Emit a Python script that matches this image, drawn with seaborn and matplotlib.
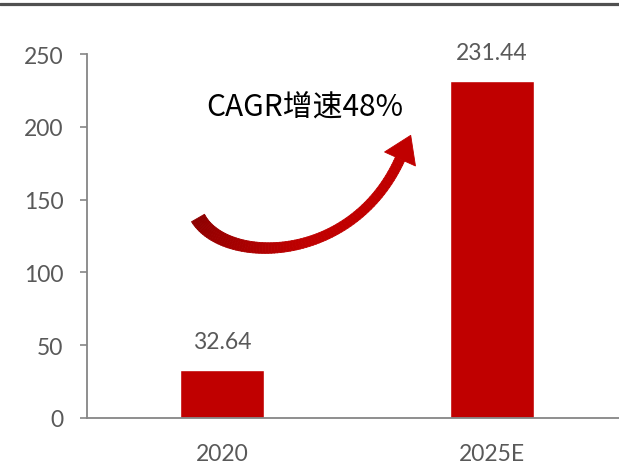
import numpy as np
import matplotlib
matplotlib.use("Agg")
import matplotlib.pyplot as plt
from matplotlib.collections import PolyCollection
from matplotlib.patches import Polygon
from matplotlib.lines import Line2D
from matplotlib.colors import to_rgb
import seaborn as sns

# Market size data
categories = ["2020", "2025E"]
values = [32.64, 231.44]
value_labels = ["32.64", "231.44"]
cagr_text = "CAGR增速48%"
y_ticks = [0, 50, 100, 150, 200, 250]

W, H = 619, 464
DPI = 100
BAR_RED = "#C00000"
TEXT_GRAY = "#595959"
AXIS_GRAY = "#868686"

sns.set_theme(style="white")
plt.rcParams["font.family"] = ["Lato", "DejaVu Sans"]

fig = plt.figure(figsize=(W / DPI, H / DPI), dpi=DPI)
ax = fig.add_axes([87 / W, 45 / H, 540 / W, 364 / H])

sns.barplot(x=categories, y=values, color=BAR_RED, saturation=1,
            width=0.31, ax=ax)

ax.set_xlim(-0.5, 1.5)
ax.set_ylim(0, 250)
ax.set_yticks(y_ticks)
ax.set_yticklabels([str(v) for v in y_ticks])

for s in ["top", "right"]:
    ax.spines[s].set_visible(False)
for s in ["left", "bottom"]:
    ax.spines[s].set_color(AXIS_GRAY)
    ax.spines[s].set_linewidth(1.3)

ax.tick_params(axis="y", which="both", left=True, length=5, width=1.2,
               color=AXIS_GRAY, pad=12, labelsize=16.5, labelcolor=TEXT_GRAY)
ax.tick_params(axis="x", length=0, pad=18, labelsize=16.5, labelcolor=TEXT_GRAY)
ax.set_xlabel("")
ax.set_ylabel("")

# value labels above bars
for i, (v, lab) in enumerate(zip(values, value_labels)):
    ax.annotate(lab, (i, v), xytext=(0, 13), textcoords="offset points",
                ha="center", va="bottom", fontsize=16.5, color=TEXT_GRAY)

# growth-rate caption
ax.text(0.307, 214, cagr_text, ha="center", va="center", fontsize=21.5,
        color="black", family=["Noto Sans CJK SC", "DejaVu Sans"])

# curved growth arrow, built in pixel space (origin top-left)
def px(pts):
    pts = np.asarray(pts, dtype=float)
    return np.column_stack([pts[:, 0] / W, 1 - pts[:, 1] / H])

P0 = np.array([198.0, 219.0])
P1 = np.array([225.0, 266.0])
P2 = np.array([352.0, 266.0])
P3 = np.array([400.0, 160.0])
t = np.linspace(0, 1, 80)[:, None]
curve = ((1 - t) ** 3) * P0 + 3 * ((1 - t) ** 2) * t * P1 \
    + 3 * (1 - t) * t ** 2 * P2 + t ** 3 * P3
deriv = 3 * ((1 - t) ** 2) * (P1 - P0) + 6 * (1 - t) * t * (P2 - P1) \
    + 3 * t ** 2 * (P3 - P2)
tang = deriv / np.linalg.norm(deriv, axis=1, keepdims=True)
norm = np.column_stack([-tang[:, 1], tang[:, 0]])
width = (15 - 15 * t + 10 * t ** 2)
left = curve + norm * width / 2
right = curve - norm * width / 2

dark = np.array(to_rgb("#8E0000"))
red = np.array(to_rgb(BAR_RED))
quads, cols = [], []
for k in range(len(t) - 1):
    quads.append(px([left[k], left[k + 1], right[k + 1], right[k]]))
    f = min(1.0, t[k, 0] / 0.55)
    c = dark * (1 - f) + red * f
    cols.append(c)
body = PolyCollection(quads, facecolors=cols, edgecolors=cols,
                      linewidths=0.6, transform=fig.transFigure)
fig.add_artist(body)

d = tang[-1]
n = np.array([-d[1], d[0]])
tip = P3 + d * 26
head = Polygon(px([P3 + n * 17, tip, P3 - n * 17]), closed=True,
               facecolor=BAR_RED, edgecolor=BAR_RED, linewidth=0.6,
               transform=fig.transFigure)
fig.add_artist(head)

# dark rule along the top edge
fig.add_artist(Line2D([0, 1], [1 - 5.3 / H, 1 - 5.3 / H], color="#505050",
                      linewidth=2.3, transform=fig.transFigure))

fig.savefig("out.png", dpi=DPI)
